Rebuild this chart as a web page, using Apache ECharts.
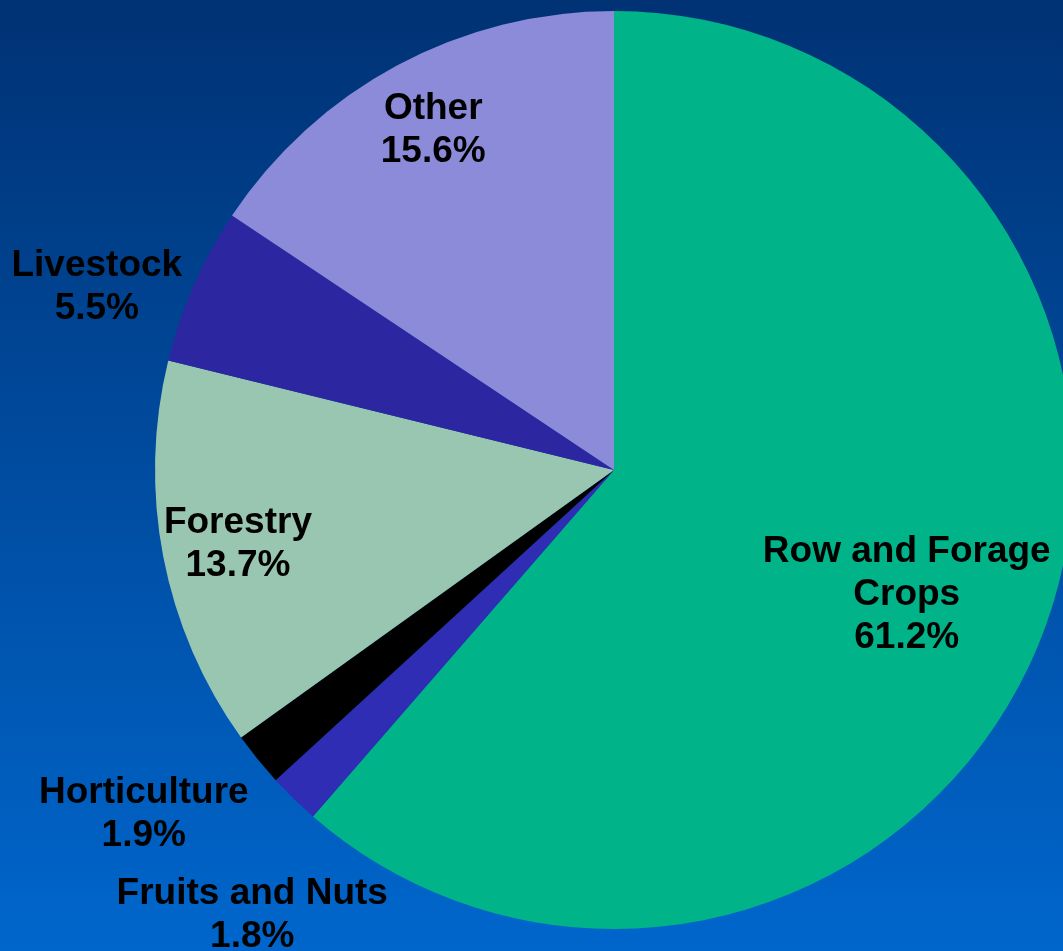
<!DOCTYPE html>
<html>
<head>
<meta charset="utf-8">
<script src="https://cdn.jsdelivr.net/npm/echarts@6/dist/echarts.min.js"></script>
<style>
html,body{margin:0;padding:0;width:1063px;height:951px;overflow:hidden;}
#chart{width:1063px;height:951px;}
</style>
</head>
<body>
<div id="chart"></div>
<script>
const categories = ["Row and Forage\nCrops", "Fruits and Nuts", "Horticulture", "Forestry", "Livestock", "Other"];
const shares = [61.2, 1.8, 1.9, 13.7, 5.5, 15.6];
const sliceColors = ["#00B388", "#2F2DB3", "#000000", "#99C6B1", "#2C27A1", "#8B8BD9"];

const CENTER = [614, 470];
const R = 459;

const data = categories.map((c, i) => ({ name: c, value: shares[i] }));

function labelSeries(radius, shown, shifts) {
  return {
    type: 'pie',
    center: CENTER,
    radius: radius,
    startAngle: 90,
    clockwise: true,
    silent: true,
    avoidLabelOverlap: false,
    emphasis: { disabled: true },
    itemStyle: { color: 'rgba(0,0,0,0)', borderWidth: 0 },
    labelLine: { show: false },
    label: {
      show: true,
      position: 'inside',
      color: '#000',
      fontFamily: '"Liberation Sans", Arial, sans-serif',
      fontWeight: 'bold',
      fontSize: 37,
      lineHeight: 43,
      align: 'center',
      formatter: p => shown.indexOf(p.dataIndex) >= 0 ? p.name + '\n' + p.value.toFixed(1) + '%' : ''
    },
    labelLayout: p => {
      const s = shifts[p.dataIndex] || [0, 0];
      return { dx: s[0], dy: s[1] };
    },
    data: data
  };
}

const chart = echarts.init(document.getElementById('chart'));
chart.setOption({
  backgroundColor: {
    type: 'linear', x: 0, y: 0, x2: 0, y2: 1,
    colorStops: [{ offset: 0, color: '#003274' }, { offset: 1, color: '#0066CC' }]
  },
  animation: false,
  series: [
    {
      type: 'pie',
      center: CENTER,
      radius: R,
      startAngle: 90,
      clockwise: true,
      silent: true,
      label: { show: false },
      labelLine: { show: false },
      itemStyle: { borderWidth: 0 },
      color: sliceColors,
      data: data
    },
    labelSeries([174, 460], [0], { 0: [-7, 13] }),
    labelSeries([300, 460], [3, 5], { 3: [0, 2], 5: [0, -2] }),
    labelSeries([460, 640], [1, 2, 4], { 1: [24, 49], 2: [-41, -4], 4: [-11, 40] })
  ]
});
</script>
</body>
</html>
